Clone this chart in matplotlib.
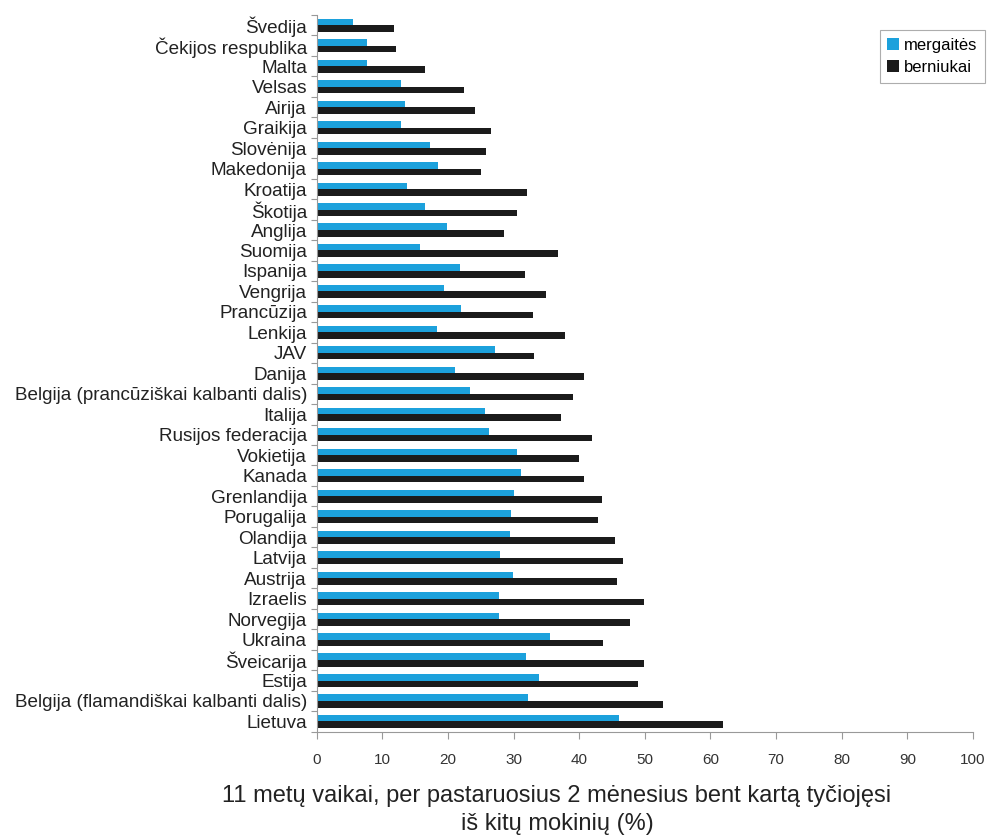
import matplotlib
matplotlib.use("Agg")
import matplotlib.pyplot as plt
import numpy as np

countries = [
    "Švedija", "Čekijos respublika", "Malta", "Velsas", "Airija", "Graikija",
    "Slovėnija", "Makedonija", "Kroatija", "Škotija", "Anglija", "Suomija",
    "Ispanija", "Vengrija", "Prancūzija", "Lenkija", "JAV", "Danija",
    "Belgija (prancūziškai kalbanti dalis)", "Italija", "Rusijos federacija",
    "Vokietija", "Kanada", "Grenlandija", "Porugalija", "Olandija", "Latvija",
    "Austrija", "Izraelis", "Norvegija", "Ukraina", "Šveicarija", "Estija",
    "Belgija (flamandiškai kalbanti dalis)", "Lietuva",
]
mergaites = [5.5, 7.7, 7.7, 12.9, 13.5, 12.9, 17.3, 18.5, 13.7, 16.5, 19.9, 15.8,
             21.9, 19.4, 22.0, 18.4, 27.2, 21.1, 23.4, 25.6, 26.2, 30.5, 31.1, 30.0,
             29.6, 29.4, 27.9, 29.9, 27.8, 27.8, 35.5, 31.9, 33.8, 32.2, 46.1]
berniukai = [11.8, 12.1, 16.5, 22.5, 24.1, 26.6, 25.8, 25.0, 32.0, 30.5, 28.5, 36.7,
             31.7, 34.9, 32.9, 37.9, 33.1, 40.8, 39.0, 37.2, 41.9, 39.9, 40.8, 43.4,
             42.8, 45.5, 46.6, 45.7, 49.8, 47.8, 43.6, 49.8, 49.0, 52.8, 61.9]
series_labels = ["mergaitės", "berniukai"]
xticks = list(range(0, 101, 10))
xlabel = "11 metų vaikai, per pastaruosius 2 mėnesius bent kartą tyčiojęsi\niš kitų mokinių (%)"

plt.rcParams['font.family'] = ['Liberation Sans', 'DejaVu Sans']

fig = plt.figure(figsize=(9.89, 8.38), dpi=100)
ax = fig.add_axes([316.7/989, 1 - 731.7/838, (973 - 316.7)/989, (731.7 - 15)/838])

n = len(countries)
y = np.arange(n)
h = 0.32
c_girl = "#1ca1dc"
c_boy = "#1b1b1b"
ax.barh(y - h/2, mergaites, height=h, color=c_girl, label=series_labels[0])
ax.barh(y + h/2, berniukai, height=h, color=c_boy, label=series_labels[1])

ax.set_ylim(n - 0.5, -0.5)
ax.set_xlim(0, 100)
ax.set_yticks(y)
ax.set_yticklabels(countries, fontsize=13.6, color="#222222")
ax.set_yticks(np.arange(n + 1) - 0.5, minor=True)
ax.tick_params(axis='y', which='major', length=0, pad=7)
ax.tick_params(axis='y', which='minor', length=4, color="#999999", width=0.8)
ax.set_xticks(xticks)
ax.set_xticklabels([str(t) for t in xticks], fontsize=11, color="#333333")
ax.tick_params(axis='x', length=5, color="#999999", width=0.8, pad=10)

for s in ["top", "right"]:
    ax.spines[s].set_visible(False)
for s in ["left", "bottom"]:
    ax.spines[s].set_color("#999999")
    ax.spines[s].set_linewidth(0.8)

fig.text(557/989, 1 - 810/838, xlabel, fontsize=17, color="#222222",
         ha="center", va="center", linespacing=1.3)

leg = ax.legend(loc="upper right", bbox_to_anchor=(1.018, 0.979), borderaxespad=0,
                fontsize=12, handlelength=0.7, handleheight=0.7, handletextpad=0.3,
                borderpad=0.45, labelspacing=0.45, frameon=True, fancybox=False)
leg.get_frame().set_edgecolor("#999999")
leg.get_frame().set_linewidth(0.8)

fig.savefig("out.png", dpi=100)
